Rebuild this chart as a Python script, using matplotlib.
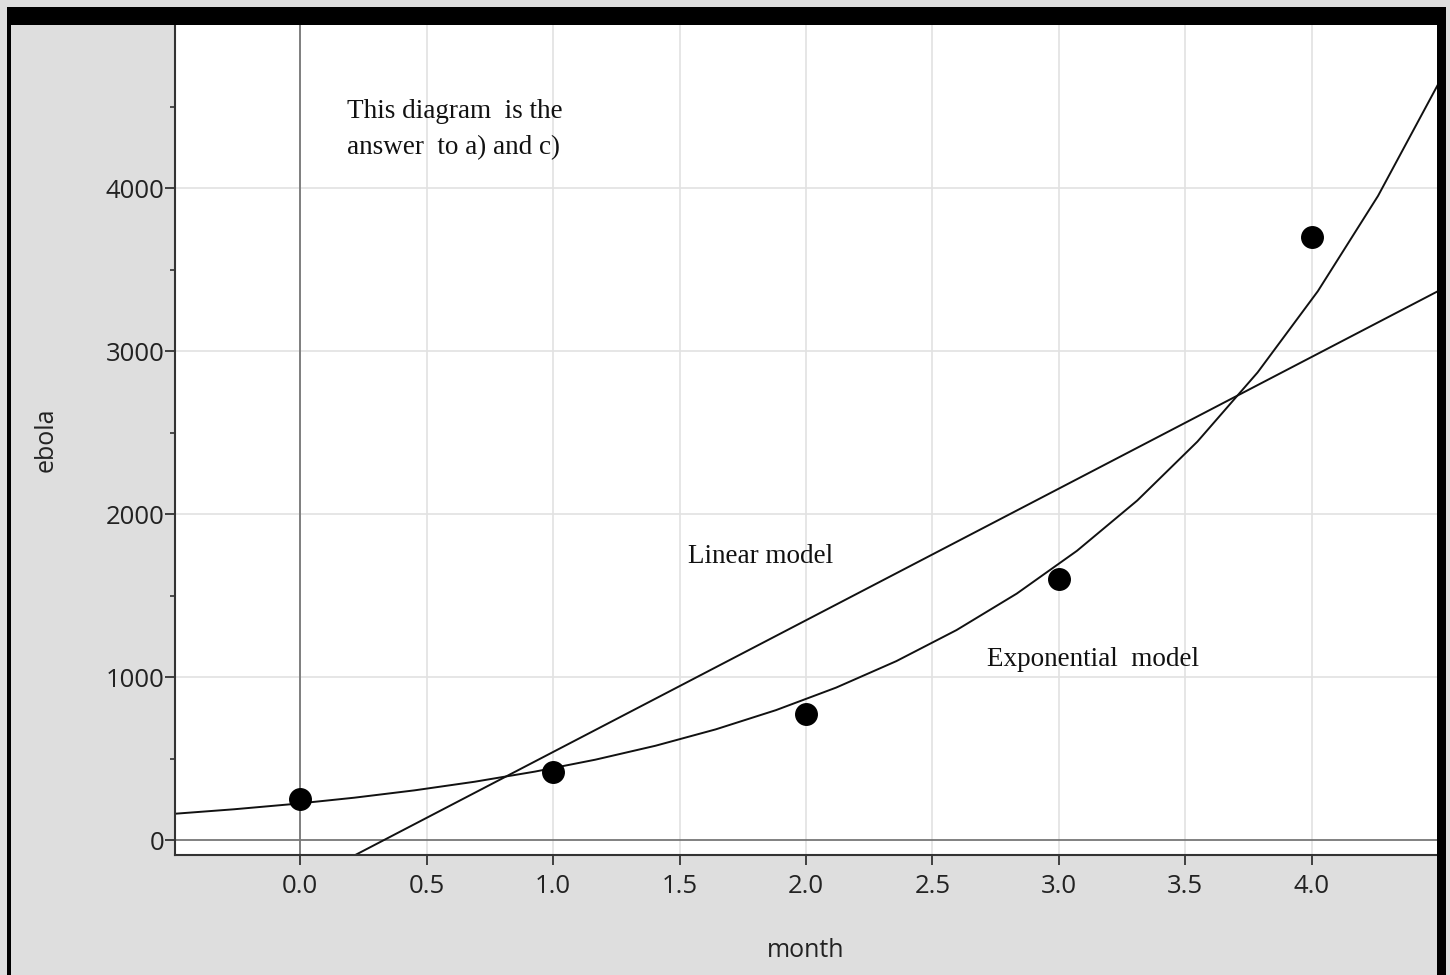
import numpy as np
import matplotlib
matplotlib.use("Agg")
import matplotlib.pyplot as plt
from matplotlib.patches import Rectangle

month = [0, 1, 2, 3, 4]
ebola = [250, 420, 770, 1600, 3700]
x_ticks = [0.0, 0.5, 1.0, 1.5, 2.0, 2.5, 3.0, 3.5, 4.0]
y_ticks = [0, 1000, 2000, 3000, 4000]
note_lines = ["This diagram  is the", "answer  to a) and c)"]
linear_label = "Linear model"
exp_label = "Exponential  model"

# regression models from the data
m, c = np.polyfit(month, ebola, 1)
bl, al = np.polyfit(month, np.log(ebola), 1)

fig = plt.figure(figsize=(14.5, 9.75), dpi=100)
fig.patch.set_facecolor("#dedede")
ax = fig.add_axes([175/1450, 1-855/975, (1437-175)/1450, (855-25)/975])
ax.set_xlim(-0.495, 4.495)
ax.set_ylim(-92, 5000)

for xv in x_ticks:
    ax.axvline(xv, color="#e2e2e2", lw=1.2, zorder=0)
for yv in y_ticks[1:]:
    ax.axhline(yv, color="#e2e2e2", lw=1.2, zorder=0)
ax.axvline(0, color="#777777", lw=1.3, zorder=1)
ax.axhline(0, color="#777777", lw=1.3, zorder=1)

xs = np.linspace(-0.5, 4.5, 400)
ax.plot(xs, m*xs + c, color="#111111", lw=1.4, zorder=2)
xe = np.linspace(-0.5, 4.5, 22)
ax.plot(xe, np.exp(al + bl*xe), color="#111111", lw=1.4, zorder=2)

ax.plot(month, ebola, "o", color="black", markersize=15.5, zorder=3, clip_on=False)

serif = "Liberation Serif"
fs = 19.5
ax.text(0.186, 4470, note_lines[0], family=serif, fontsize=fs, va="center", ha="left", color="#111111")
ax.text(0.186, 4250, note_lines[1], family=serif, fontsize=fs, va="center", ha="left", color="#111111")
ax.text(1.534, 1741, linear_label, family=serif, fontsize=fs, va="center", ha="left", color="#111111")
ax.text(2.715, 1105, exp_label, family=serif, fontsize=fs, va="center", ha="left", color="#111111")

ax.set_xticks(x_ticks)
ax.set_xticklabels([f"{v:.1f}" for v in x_ticks])
ax.set_yticks(y_ticks)
ax.set_yticklabels([str(v) for v in y_ticks])
ax.set_yticks([500, 1500, 2500, 3500, 4500], minor=True)
ax.tick_params(axis="both", which="major", length=7.5, width=1.3, color="#333333",
               labelsize=18.5, labelcolor="#222222")
ax.tick_params(axis="y", which="major", pad=0)
ax.tick_params(axis="x", which="major", pad=6)
ax.tick_params(axis="y", which="minor", length=3.5, width=1.2, color="#333333")
for lab in ax.get_xticklabels() + ax.get_yticklabels():
    lab.set_family("Open Sans")

for s in ["top", "right"]:
    ax.spines[s].set_visible(False)
for s in ["left", "bottom"]:
    ax.spines[s].set_color("#333333")
    ax.spines[s].set_linewidth(1.5)

ax.set_xlabel("month", family="Open Sans", fontsize=18, color="#222222", labelpad=28)
ax.set_ylabel("ebola", family="Open Sans", fontsize=18, color="#222222", labelpad=34)

# black frame
fig.patches.append(Rectangle((7/1450, 1-25/975), (1446-7)/1450, 18/975, transform=fig.transFigure,
                             facecolor="black", edgecolor="none", zorder=10))
fig.patches.append(Rectangle((7/1450, 0), 4/1450, 1-7/975, transform=fig.transFigure,
                             facecolor="black", edgecolor="none", zorder=10))
fig.patches.append(Rectangle((1437/1450, 0), 9/1450, 1-7/975, transform=fig.transFigure,
                             facecolor="black", edgecolor="none", zorder=10))

fig.savefig("out.png", dpi=100, facecolor=fig.get_facecolor())
